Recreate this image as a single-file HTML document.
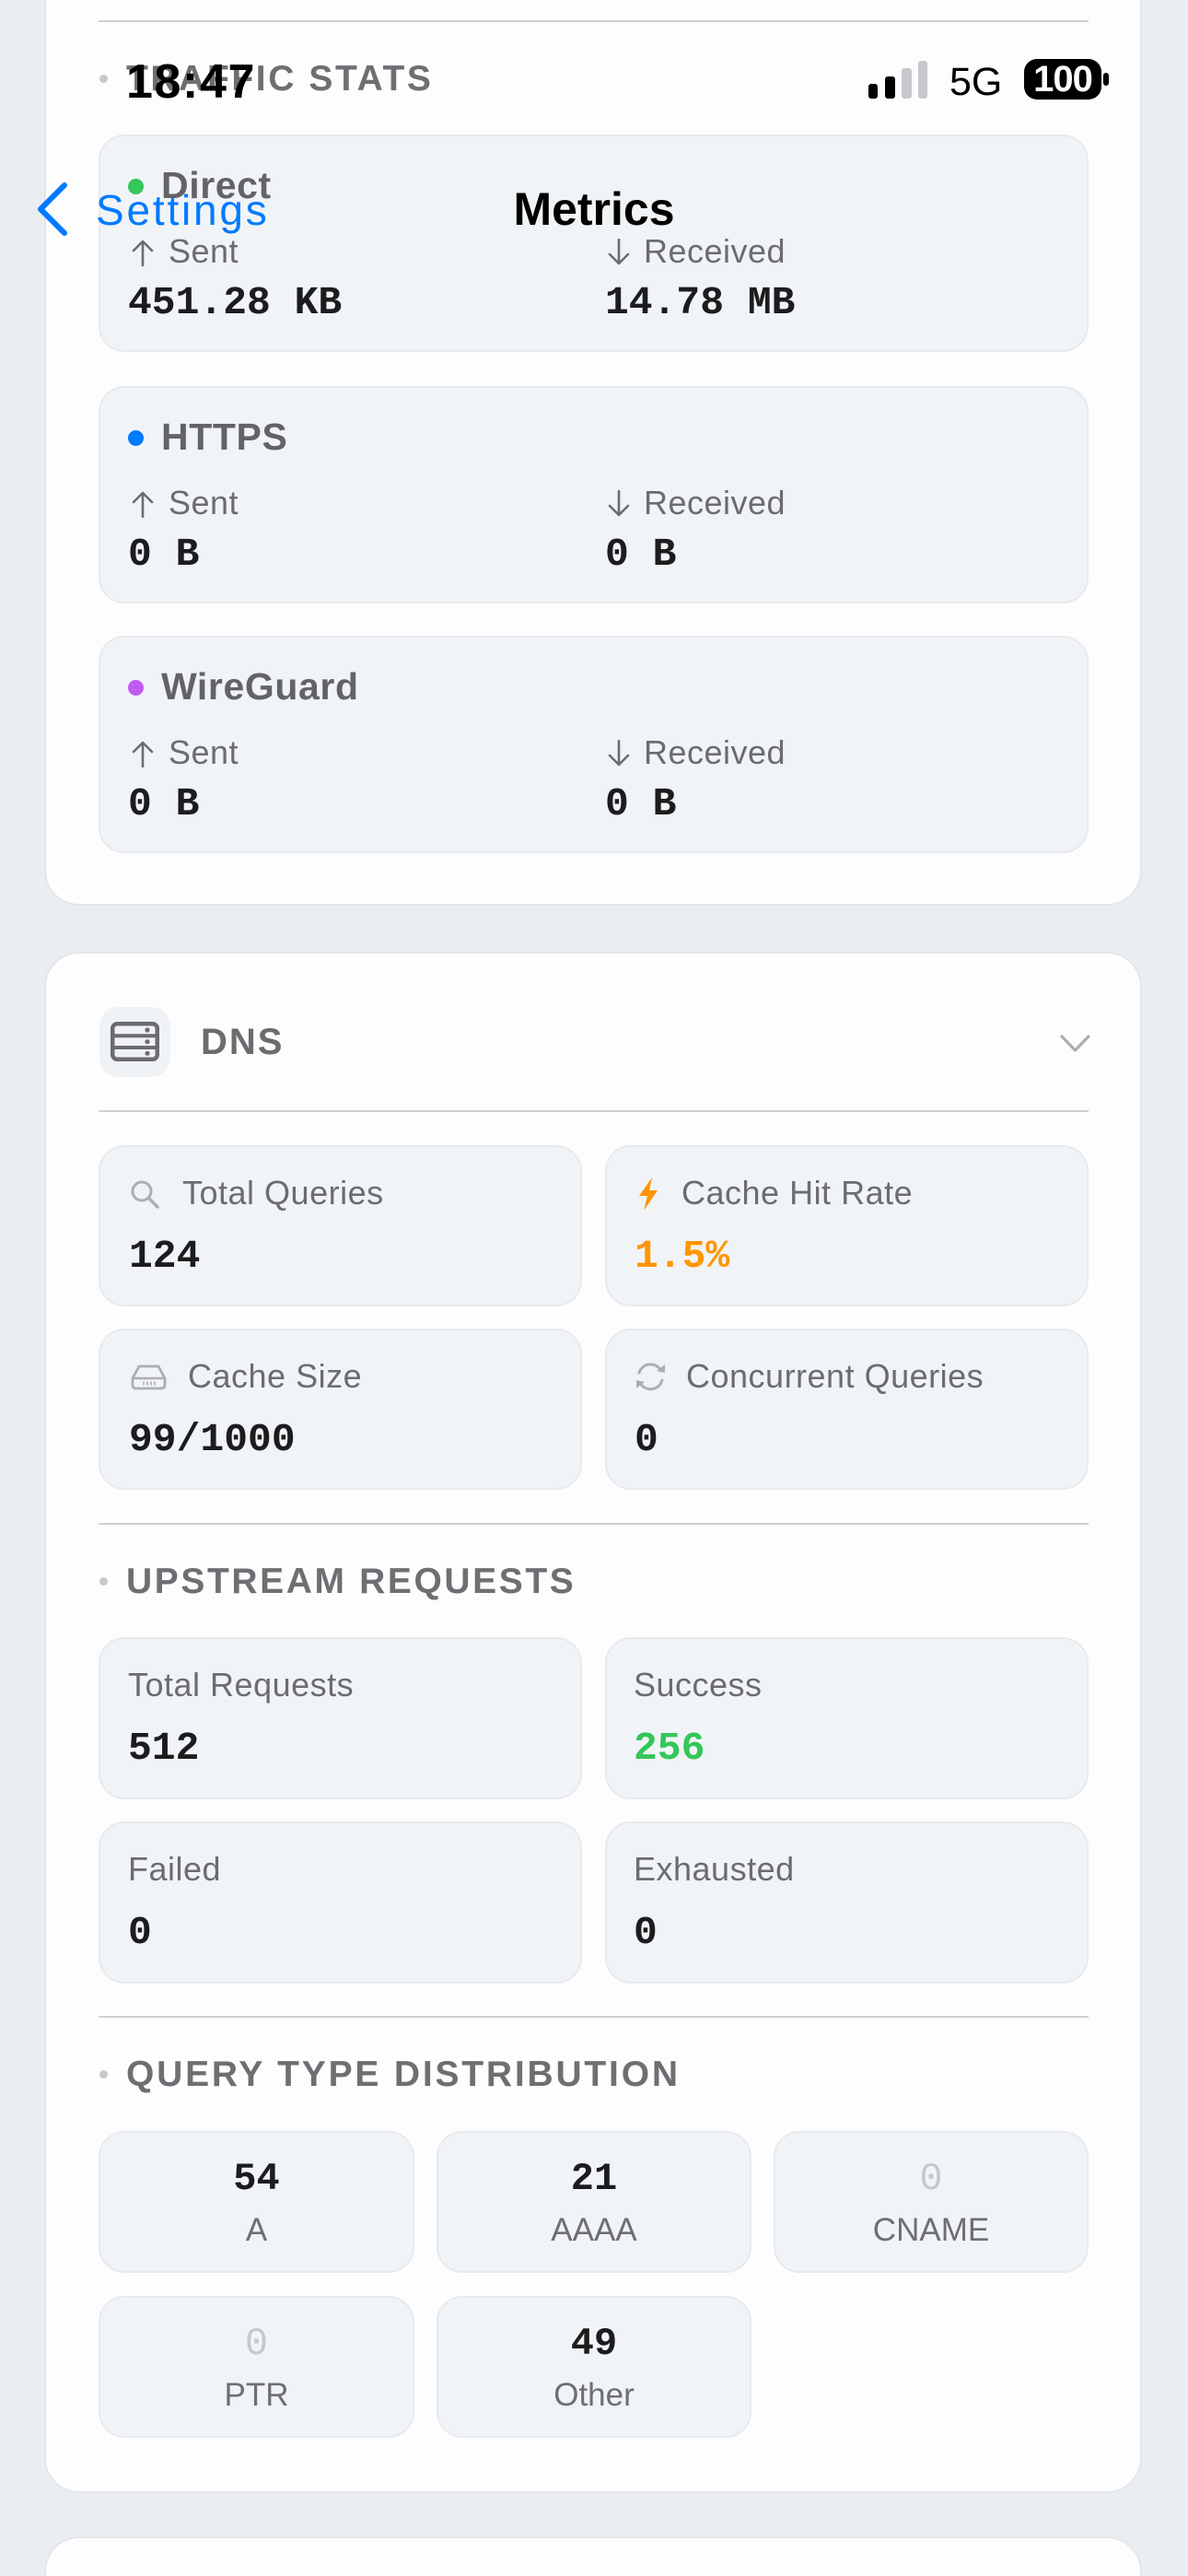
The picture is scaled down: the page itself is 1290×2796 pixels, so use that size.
<!DOCTYPE html>
<html><head><meta charset="utf-8"><style>
*{box-sizing:border-box;margin:0;padding:0}
html,body{width:1290px;height:2796px;overflow:hidden}
body{background:#eaedf1;position:relative;font-family:"Liberation Sans",sans-serif;color:#1c1c1e}
.a{position:absolute}
.t{position:absolute;height:60px;line-height:60px;white-space:nowrap}
.card{position:absolute;left:48px;width:1192px;background:#fdfdfe;border:2px solid #e3e6ea;border-radius:38px}
.tile{position:absolute;background:#f1f4f7;border:2px solid #e7eaee;border-radius:28px}
.div{position:absolute;left:107px;width:1075px;height:2px;background:#cfd0d4}
.hdr{font-size:39px;font-weight:bold;color:#6e6e73;letter-spacing:2.6px}
.bul{position:absolute;width:9px;height:9px;border-radius:50%;background:#c7c7cc}
.name{font-size:41px;font-weight:bold;color:#636366;letter-spacing:0.6px}
.lab{font-size:36px;color:#6c6c70;letter-spacing:0.5px}
.val{font-family:"Liberation Mono",monospace;font-weight:bold;font-size:43px;color:#1c1c1e}
.dot{position:absolute;width:17px;height:17px;border-radius:50%}
.qn{font-family:"Liberation Mono",monospace;font-weight:bold;font-size:42px;text-align:center;color:#1c1c1e}
.ql{font-size:35px;text-align:center;color:#6e6e73}
</style></head><body>

<!-- Card 1: traffic -->
<div class="card" style="top:-60px;height:1043px"></div>
<div class="div" style="top:22px"></div>
<div class="bul" style="left:108px;top:81px"></div>
<div class="t hdr" style="left:137px;top:56px">TRAFFIC STATS</div>

<!-- Direct -->
<div class="tile" style="left:107px;top:146px;width:1075px;height:236px"></div>
<div class="dot" style="left:139px;top:194px;background:#34c759"></div>
<div class="t name" style="left:175px;top:171px">Direct</div>
<svg class="a" style="left:142px;top:259px" width="26" height="30"><path d="M13 29V3M3 13L13 3L23 13" fill="none" stroke="#6c6c70" stroke-width="2.6" stroke-linecap="round" stroke-linejoin="round"/></svg>
<div class="t lab" style="left:183px;top:243px">Sent</div>
<svg class="a" style="left:659px;top:259px" width="26" height="30"><path d="M13 1V27M3 17L13 27L23 17" fill="none" stroke="#6c6c70" stroke-width="2.6" stroke-linecap="round" stroke-linejoin="round"/></svg>
<div class="t lab" style="left:699px;top:243px">Received</div>
<div class="t val" style="left:139px;top:299px">451.28 KB</div>
<div class="t val" style="left:657px;top:299px">14.78 MB</div>

<!-- HTTPS -->
<div class="tile" style="left:107px;top:419px;width:1075px;height:236px"></div>
<div class="dot" style="left:139px;top:467px;background:#007aff"></div>
<div class="t name" style="left:175px;top:444px">HTTPS</div>
<svg class="a" style="left:142px;top:532px" width="26" height="30"><path d="M13 29V3M3 13L13 3L23 13" fill="none" stroke="#6c6c70" stroke-width="2.6" stroke-linecap="round" stroke-linejoin="round"/></svg>
<div class="t lab" style="left:183px;top:516px">Sent</div>
<svg class="a" style="left:659px;top:532px" width="26" height="30"><path d="M13 1V27M3 17L13 27L23 17" fill="none" stroke="#6c6c70" stroke-width="2.6" stroke-linecap="round" stroke-linejoin="round"/></svg>
<div class="t lab" style="left:699px;top:516px">Received</div>
<div class="t val" style="left:139px;top:572px">0 B</div>
<div class="t val" style="left:657px;top:572px">0 B</div>

<!-- WireGuard -->
<div class="tile" style="left:107px;top:690px;width:1075px;height:236px"></div>
<div class="dot" style="left:139px;top:738px;background:#bf5af2"></div>
<div class="t name" style="left:175px;top:715px">WireGuard</div>
<svg class="a" style="left:142px;top:803px" width="26" height="30"><path d="M13 29V3M3 13L13 3L23 13" fill="none" stroke="#6c6c70" stroke-width="2.6" stroke-linecap="round" stroke-linejoin="round"/></svg>
<div class="t lab" style="left:183px;top:787px">Sent</div>
<svg class="a" style="left:659px;top:803px" width="26" height="30"><path d="M13 1V27M3 17L13 27L23 17" fill="none" stroke="#6c6c70" stroke-width="2.6" stroke-linecap="round" stroke-linejoin="round"/></svg>
<div class="t lab" style="left:699px;top:787px">Received</div>
<div class="t val" style="left:139px;top:843px">0 B</div>
<div class="t val" style="left:657px;top:843px">0 B</div>

<!-- Card 2: DNS -->
<div class="card" style="top:1033px;height:1673px"></div>
<div class="a" style="left:108px;top:1093px;width:77px;height:76px;border-radius:20px;background:#f0f3f6"></div>
<svg class="a" style="left:120px;top:1109px" width="53" height="43">
<rect x="2.25" y="2.25" width="48.5" height="38.5" rx="5" fill="none" stroke="#6b6b70" stroke-width="4.5"/>
<line x1="2" y1="15.3" x2="51" y2="15.3" stroke="#6b6b70" stroke-width="4"/>
<line x1="2" y1="28" x2="51" y2="28" stroke="#6b6b70" stroke-width="4"/>
<circle cx="40" cy="9" r="2.6" fill="#6b6b70"/><circle cx="40" cy="21.7" r="2.6" fill="#6b6b70"/><circle cx="40" cy="34.3" r="2.6" fill="#6b6b70"/>
</svg>
<div class="t" style="left:218px;top:1101px;font-size:40px;font-weight:bold;color:#6b6b70;letter-spacing:2px">DNS</div>
<svg class="a" style="left:1150px;top:1121px" width="35" height="23"><path d="M3 4L17.5 19L32 4" fill="none" stroke="#aeaeb2" stroke-width="3.2" stroke-linecap="round" stroke-linejoin="round"/></svg>
<div class="div" style="top:1205px"></div>

<!-- DNS tiles -->
<div class="tile" style="left:107px;top:1243px;width:525px;height:175px"></div>
<div class="tile" style="left:657px;top:1243px;width:525px;height:175px"></div>
<div class="tile" style="left:107px;top:1442px;width:525px;height:175px"></div>
<div class="tile" style="left:657px;top:1442px;width:525px;height:175px"></div>

<svg class="a" style="left:140px;top:1280px" width="36" height="34"><circle cx="14" cy="13" r="10" fill="none" stroke="#aeaeb2" stroke-width="3"/><line x1="21.5" y1="20.5" x2="31" y2="30" stroke="#aeaeb2" stroke-width="3.4" stroke-linecap="round"/></svg>
<div class="t lab" style="left:198px;top:1265px">Total Queries</div>
<div class="t val" style="left:140px;top:1334px">124</div>

<svg class="a" style="left:690px;top:1277px" width="28" height="38"><path d="M18 1L4 21H13L9 37L24 15H15L18 1Z" fill="#ff9500"/></svg>
<div class="t lab" style="left:740px;top:1265px">Cache Hit Rate</div>
<div class="t val" style="left:689px;top:1334px;color:#ff9500">1.5%</div>

<svg class="a" style="left:141px;top:1480px" width="41" height="30"><path d="M10 3H31L38 16V23Q38 27 34 27H7Q3 27 3 23V16Z" fill="none" stroke="#aeaeb2" stroke-width="2.8" stroke-linejoin="round"/><line x1="3.5" y1="16" x2="37.5" y2="16" stroke="#aeaeb2" stroke-width="2.6"/><path d="M15 19.5V23.5M19 19.5V23.5M23 19.5V23.5M27 19.5V23.5" stroke="#aeaeb2" stroke-width="1.6"/></svg>
<div class="t lab" style="left:204px;top:1464px">Cache Size</div>
<div class="t val" style="left:140px;top:1533px">99/1000</div>

<svg class="a" style="left:686px;top:1476px" width="41" height="36"><path d="M8 14A13 13 0 0 1 32 12" fill="none" stroke="#aeaeb2" stroke-width="3" stroke-linecap="round"/><path d="M33 22A13 13 0 0 1 9 25" fill="none" stroke="#aeaeb2" stroke-width="3" stroke-linecap="round"/><path d="M27 12L36 14L36 5Z" fill="#aeaeb2"/><path d="M14 24L5 22L5 31Z" fill="#aeaeb2"/></svg>
<div class="t lab" style="left:745px;top:1464px">Concurrent Queries</div>
<div class="t val" style="left:689px;top:1533px">0</div>

<div class="div" style="top:1653px"></div>
<div class="bul" style="left:108px;top:1712px"></div>
<div class="t hdr" style="left:137px;top:1687px">UPSTREAM REQUESTS</div>

<div class="tile" style="left:107px;top:1777px;width:525px;height:176px"></div>
<div class="tile" style="left:657px;top:1777px;width:525px;height:176px"></div>
<div class="tile" style="left:107px;top:1977px;width:525px;height:176px"></div>
<div class="tile" style="left:657px;top:1977px;width:525px;height:176px"></div>
<div class="t lab" style="left:139px;top:1799px">Total Requests</div>
<div class="t val" style="left:139px;top:1868px">512</div>
<div class="t lab" style="left:688px;top:1799px">Success</div>
<div class="t val" style="left:688px;top:1868px;color:#34c759">256</div>
<div class="t lab" style="left:139px;top:1999px">Failed</div>
<div class="t val" style="left:139px;top:2068px">0</div>
<div class="t lab" style="left:688px;top:1999px">Exhausted</div>
<div class="t val" style="left:688px;top:2068px">0</div>

<div class="div" style="top:2188px"></div>
<div class="bul" style="left:108px;top:2247px"></div>
<div class="t hdr" style="left:137px;top:2222px;letter-spacing:2.8px">QUERY TYPE DISTRIBUTION</div>

<div class="tile" style="left:107px;top:2313px;width:343px;height:154px"></div>
<div class="tile" style="left:474px;top:2313px;width:342px;height:154px"></div>
<div class="tile" style="left:840px;top:2313px;width:342px;height:154px"></div>
<div class="tile" style="left:107px;top:2492px;width:343px;height:154px"></div>
<div class="tile" style="left:474px;top:2492px;width:342px;height:154px"></div>

<div class="t qn" style="left:107px;width:343px;top:2335px">54</div>
<div class="t ql" style="left:107px;width:343px;top:2391px">A</div>
<div class="t qn" style="left:474px;width:342px;top:2335px">21</div>
<div class="t ql" style="left:474px;width:342px;top:2391px">AAAA</div>
<div class="t qn" style="left:840px;width:342px;top:2335px;color:#c7c7cc;font-weight:normal">0</div>
<div class="t ql" style="left:840px;width:342px;top:2391px">CNAME</div>
<div class="t qn" style="left:107px;width:343px;top:2514px;color:#c7c7cc;font-weight:normal">0</div>
<div class="t ql" style="left:107px;width:343px;top:2570px">PTR</div>
<div class="t qn" style="left:474px;width:342px;top:2514px">49</div>
<div class="t ql" style="left:474px;width:342px;top:2570px">Other</div>

<!-- Card 3 (top edge only visible) -->
<div class="card" style="top:2753px;height:43px;border-bottom:none;border-radius:38px 38px 0 0"></div>

<!-- Status bar overlay -->
<div class="t" style="left:137px;top:59px;font-size:52px;font-weight:bold;color:#000;letter-spacing:1.6px">18:47</div>
<svg class="a" style="left:940px;top:62px" width="270" height="50">
<rect x="3" y="29" width="10" height="16" rx="3" fill="#000"/>
<rect x="21" y="21" width="11" height="24" rx="3" fill="#000"/>
<rect x="39" y="12" width="11" height="33" rx="3" fill="#c8c8cc"/>
<rect x="57" y="4" width="10" height="41" rx="3" fill="#c8c8cc"/>
<rect x="172" y="2" width="84" height="44" rx="14" fill="#000"/>
<rect x="258" y="17" width="6" height="14" rx="3" fill="#000"/>
</svg>
<div class="t" style="left:1031px;top:59px;font-size:43px;color:#000">5G</div>
<div class="t" style="left:1112px;top:56px;width:84px;text-align:center;font-size:40px;font-weight:bold;color:#fff;letter-spacing:-1px">100</div>

<!-- Nav bar overlay -->
<svg class="a" style="left:36px;top:195px" width="42" height="64"><path d="M34 6L8 32L34 58" fill="none" stroke="#007aff" stroke-width="6" stroke-linecap="round" stroke-linejoin="round"/></svg>
<div class="t" style="left:104px;top:198px;font-size:46px;color:#007aff;letter-spacing:2.8px">Settings</div>
<div class="t" style="left:445px;top:197px;width:400px;text-align:center;font-size:50px;font-weight:bold;color:#000">Metrics</div>

</body></html>
